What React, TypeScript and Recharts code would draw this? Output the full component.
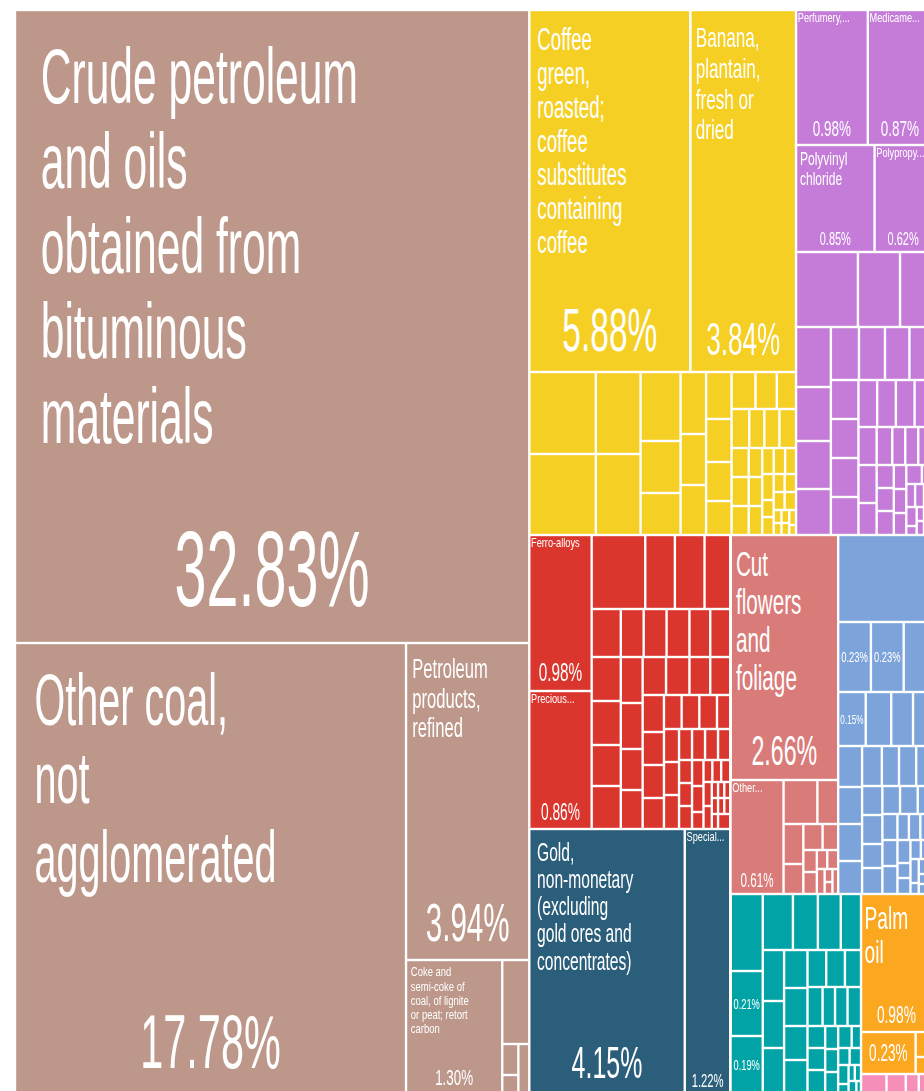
import { Treemap } from "recharts";

// The reference is a squarified treemap that was squeezed sideways, so the
// tree is laid out wide and then narrowed with scaleX.
const SQUEEZE = 0.52;
const TREE_W = 1763;
const TREE_H = 1084;
const VIEW_W = 909;
const VIEW_H = 1081;
const GAP = 2.4;
const LINE = 1.09;

// [product, share of exports in %]; null = no label, "" = share printed only
type Item = [string | null, number];

const minerals: Item[] = [
  ["Crude petroleum and oils obtained from bituminous materials", 32.83],
  ["Other coal, not agglomerated", 17.78],
  ["Petroleum products, refined", 3.94],
  ["Coke and semi-coke of coal, of lignite or peat; retort carbon", 1.3],
];
const mineralsOther = [0.23, 0.05, 0.03, 0.02];

const foodstuffs: Item[] = [
  ["Coffee green, roasted; coffee substitutes containing coffee", 5.88],
  ["Banana, plantain, fresh or dried", 3.84],
];
const foodstuffsOther = [
  0.55, 0.54, 0.37, 0.36, 0.28, 0.21, 0.17, 0.16, 0.13, 0.13, 0.12, 0.11, 0.1,
  0.09, 0.09, 0.08, 0.07, 0.07, 0.06, 0.06, 0.06, 0.05, 0.05, 0.05, 0.04, 0.04,
  0.04, 0.03, 0.03, 0.03, 0.03, 0.02, 0.02, 0.02, 0.02, 0.02, 0.02, 0.01, 0.01,
  0.01, 0.01, 0.01, 0.01,
];

const chemicals: Item[] = [
  ["Perfumery, cosmetics and toilet preparations (excluding soaps)", 0.98],
  ["Medicaments (including veterinary medicaments)", 0.87],
  ["Polyvinyl chloride", 0.85],
  ["Polypropylene", 0.62],
];
const chemicalsOther = [
  0.47, 0.32, 0.24, 0.21, 0.19, 0.17, 0.16, 0.15, 0.14, 0.13, 0.12, 0.11, 0.11,
  0.11, 0.1, 0.09, 0.09, 0.09, 0.08, 0.07, 0.07, 0.06, 0.06, 0.05, 0.05, 0.05,
  0.04, 0.04, 0.04, 0.03, 0.03, 0.03, 0.03, 0.02, 0.02, 0.02, 0.02, 0.02, 0.01,
  0.01, 0.01, 0.01, 0.01,
];

const metals: Item[] = [
  ["Ferro-alloys", 0.98],
  ["Precious metal ores and concentrates", 0.86],
];
const metalsOther = [
  0.4, 0.22, 0.22, 0.2, 0.14, 0.13, 0.13, 0.12, 0.12, 0.11, 0.11, 0.11, 0.1, 0.1,
  0.1, 0.1, 0.09, 0.09, 0.09, 0.09, 0.08, 0.08, 0.08, 0.07, 0.07, 0.07, 0.06,
  0.06, 0.06, 0.05, 0.05, 0.05, 0.05, 0.04, 0.04, 0.04, 0.04, 0.03, 0.03, 0.03,
  0.03, 0.03, 0.02, 0.02, 0.02, 0.02, 0.02, 0.02, 0.01, 0.01, 0.01, 0.01, 0.01,
  0.01, 0.01, 0.01,
];

const gold: Item[] = [
  ["Gold, non-monetary (excluding gold ores and concentrates)", 4.15],
  ["Special transactions and commodities not classified according to kind", 1.22],
];

const flowers: Item[] = [
  ["Cut flowers and foliage", 2.66],
  ["Other fresh or chilled vegetables", 0.61],
];
const flowersOther = [
  0.15, 0.09, 0.08, 0.06, 0.05, 0.04, 0.03, 0.03, 0.02, 0.02, 0.02, 0.01, 0.01,
  0.01,
];

const machinery: Item[] = [
  [null, 0.82],
  ["", 0.23],
  ["", 0.23],
  [null, 0.2],
  ["", 0.15],
];
const machineryOther = [
  0.14, 0.12, 0.1, 0.1, 0.09, 0.09, 0.08, 0.08, 0.07, 0.07, 0.06, 0.06, 0.06,
  0.05, 0.05, 0.05, 0.05, 0.04, 0.04, 0.04, 0.04, 0.03, 0.03, 0.03, 0.03, 0.02,
  0.02, 0.02, 0.02, 0.02, 0.01, 0.01, 0.01, 0.01, 0.01, 0.01,
];

const textiles: Item[] = [
  [null, 0.25],
  ["", 0.21],
  ["", 0.19],
];
const textilesOther = [
  0.17, 0.14, 0.13, 0.11, 0.11, 0.1, 0.1, 0.09, 0.09, 0.08, 0.08, 0.07, 0.07,
  0.06, 0.06, 0.05, 0.05, 0.05, 0.04, 0.04, 0.04, 0.03, 0.03, 0.03, 0.03, 0.02,
  0.02, 0.02, 0.02, 0.01, 0.01, 0.01, 0.01, 0.01,
];

const oils: Item[] = [
  ["Palm oil", 0.98],
  ["", 0.23],
];
const oilsOther = [0.04, 0.03];

const transportOther = [0.04, 0.03, 0.02, 0.02];

const groups: [Item[], number[]][] = [
  [minerals, mineralsOther],
  [foodstuffs, foodstuffsOther],
  [chemicals, chemicalsOther],
  [metals, metalsOther],
  [gold, []],
  [flowers, flowersOther],
  [machinery, machineryOther],
  [textiles, textilesOther],
  [oils, oilsOther],
  [[], transportOther],
];

const groupColors = [
  "#BC978A",
  "#F5CF24",
  "#C47CD8",
  "#DA362D",
  "#2B5E7A",
  "#D97B79",
  "#7CA3DA",
  "#02A3A6",
  "#FBA720",
  "#F58FB9",
];

const tree = groups.map(([named, other], g) => ({
  name: `group-${g}`,
  children: [...named, ...other.map((v): Item => [null, v])].map(([name, size], i) => ({
    name: name || `item-${g}-${i}`,
    title: name ?? "",
    label: name === null ? "none" : name === "" ? "pct" : "full",
    size,
    group: g,
  })),
}));

const FONT = '"Liberation Sans", Arial, Helvetica, sans-serif';
const widthCache = new Map<string, number>();
let measureCtx: CanvasRenderingContext2D | null = null;

// width of a string at font-size 1
function em(text: string) {
  let w = widthCache.get(text);
  if (w === undefined) {
    if (!measureCtx) measureCtx = document.createElement("canvas").getContext("2d");
    measureCtx!.font = `100px ${FONT}`;
    w = measureCtx!.measureText(text).width / 100;
    widthCache.set(text, w);
  }
  return w;
}

// small text in the picture comes out wider than the squeeze alone gives
const nameStretch = (fs: number) => 0.98 + 5.5 / fs;
const pctStretch = (fs: number) => 1 + 3 / fs;

function wrap(words: string[], maxW: number, k: number) {
  const lines: string[] = [];
  let cur = "";
  for (const word of words) {
    const next = cur ? cur + " " + word : word;
    if (!cur || em(next) * k <= maxW) cur = next;
    else {
      lines.push(cur);
      cur = word;
    }
  }
  if (cur) lines.push(cur);
  return lines;
}

function fitName(name: string, w: number, h: number, pctFs: number) {
  const words = name.split(" ");
  const maxW = w * 0.62;
  const avail = h * 0.97 - pctFs * 1.75;
  for (let fs = Math.floor(Math.min(120, avail)); fs >= 13; fs--) {
    const k = fs * nameStretch(fs);
    const lines = wrap(words, maxW, k);
    if (lines.every((l) => em(l) * k <= maxW) && lines.length * fs * LINE <= avail) {
      return { fs, lines };
    }
  }
  return null;
}

function truncate(name: string, maxW: number, k: number) {
  const words = name.split(" ");
  let out = words[0];
  if (em(out + (words.length > 1 ? "..." : "")) * k > maxW) {
    while (out.length > 1 && em(out + "...") * k > maxW) out = out.slice(0, -1);
    return out + "...";
  }
  for (let i = 1; i < words.length; i++) {
    const next = out + " " + words[i];
    const tail = i < words.length - 1 ? "..." : "";
    if (em(next + tail) * k > maxW) return out + "...";
    out = next;
  }
  return out;
}

function Label({ x, y, fs, k, anchor, children }: any) {
  return (
    <text
      transform={`translate(${x},${y}) scale(${k},1)`}
      fontSize={fs}
      textAnchor={anchor || "start"}
    >
      {children}
    </text>
  );
}

function Cell(props: any) {
  const { x, y, width: w, height: h, depth, group, title, size, label } = props;
  if (depth !== 2 || !(w > 0) || !(h > 0)) return null;
  const gx = GAP / SQUEEZE;
  const texts: any[] = [];
  const pct = `${Number(size).toFixed(2)}%`;

  if (label === "pct") {
    const fs = Math.min(0.55 * h, 0.24 * w);
    if (fs >= 9) {
      texts.push(
        <Label key="p" x={x + w / 2} y={y + h / 2 + 0.36 * fs} fs={fs} k={pctStretch(fs)} anchor="middle">
          {pct}
        </Label>
      );
    }
  } else if (label === "full") {
    const pfs = Math.min(0.17 * h, (0.7 * w) / em(pct) - 3);
    if (pfs >= 8) {
      texts.push(
        <Label key="p" x={x + w / 2} y={y + h - 0.33 * pfs - 1} fs={pfs} k={pctStretch(pfs)} anchor="middle">
          {pct}
        </Label>
      );
    }
    const fit = fitName(title, w, h, pfs);
    if (fit) {
      const tx = x + 0.05 * w;
      const top = y + 0.03 * h + 0.95 * fit.fs;
      fit.lines.forEach((line, i) => {
        texts.push(
          <Label key={`n${i}`} x={tx} y={top + i * LINE * fit.fs} fs={fit.fs} k={nameStretch(fit.fs)}>
            {line}
          </Label>
        );
      });
    } else if (h >= 20 && w >= 30) {
      const fs = 12.5;
      const k = nameStretch(fs);
      texts.push(
        <Label key="t" x={x + gx / 2 + 1} y={y + 12} fs={fs} k={k}>
          {truncate(title, 0.85 * w, fs * k)}
        </Label>
      );
    }
  }

  return (
    <g>
      <rect
        x={x + gx / 2}
        y={y + GAP / 2}
        width={Math.max(0, w - gx)}
        height={Math.max(0, h - GAP)}
        fill={groupColors[group]}
      />
      {texts.length > 0 && (
        <g fill="#fff" fontFamily={FONT}>
          {texts}
        </g>
      )}
    </g>
  );
}

export default function App() {
  return (
    <div
      style={{
        position: "absolute",
        left: 15,
        top: 10,
        width: VIEW_W,
        height: VIEW_H,
        overflow: "hidden",
        background: "#fff",
      }}
    >
      <div
        style={{
          width: TREE_W,
          height: TREE_H,
          transform: `scaleX(${SQUEEZE})`,
          transformOrigin: "0 0",
        }}
      >
        <Treemap
          width={TREE_W}
          height={TREE_H}
          data={tree}
          dataKey="size"
          aspectRatio={1.12}
          isAnimationActive={false}
          content={Cell}
        />
      </div>
    </div>
  );
}
